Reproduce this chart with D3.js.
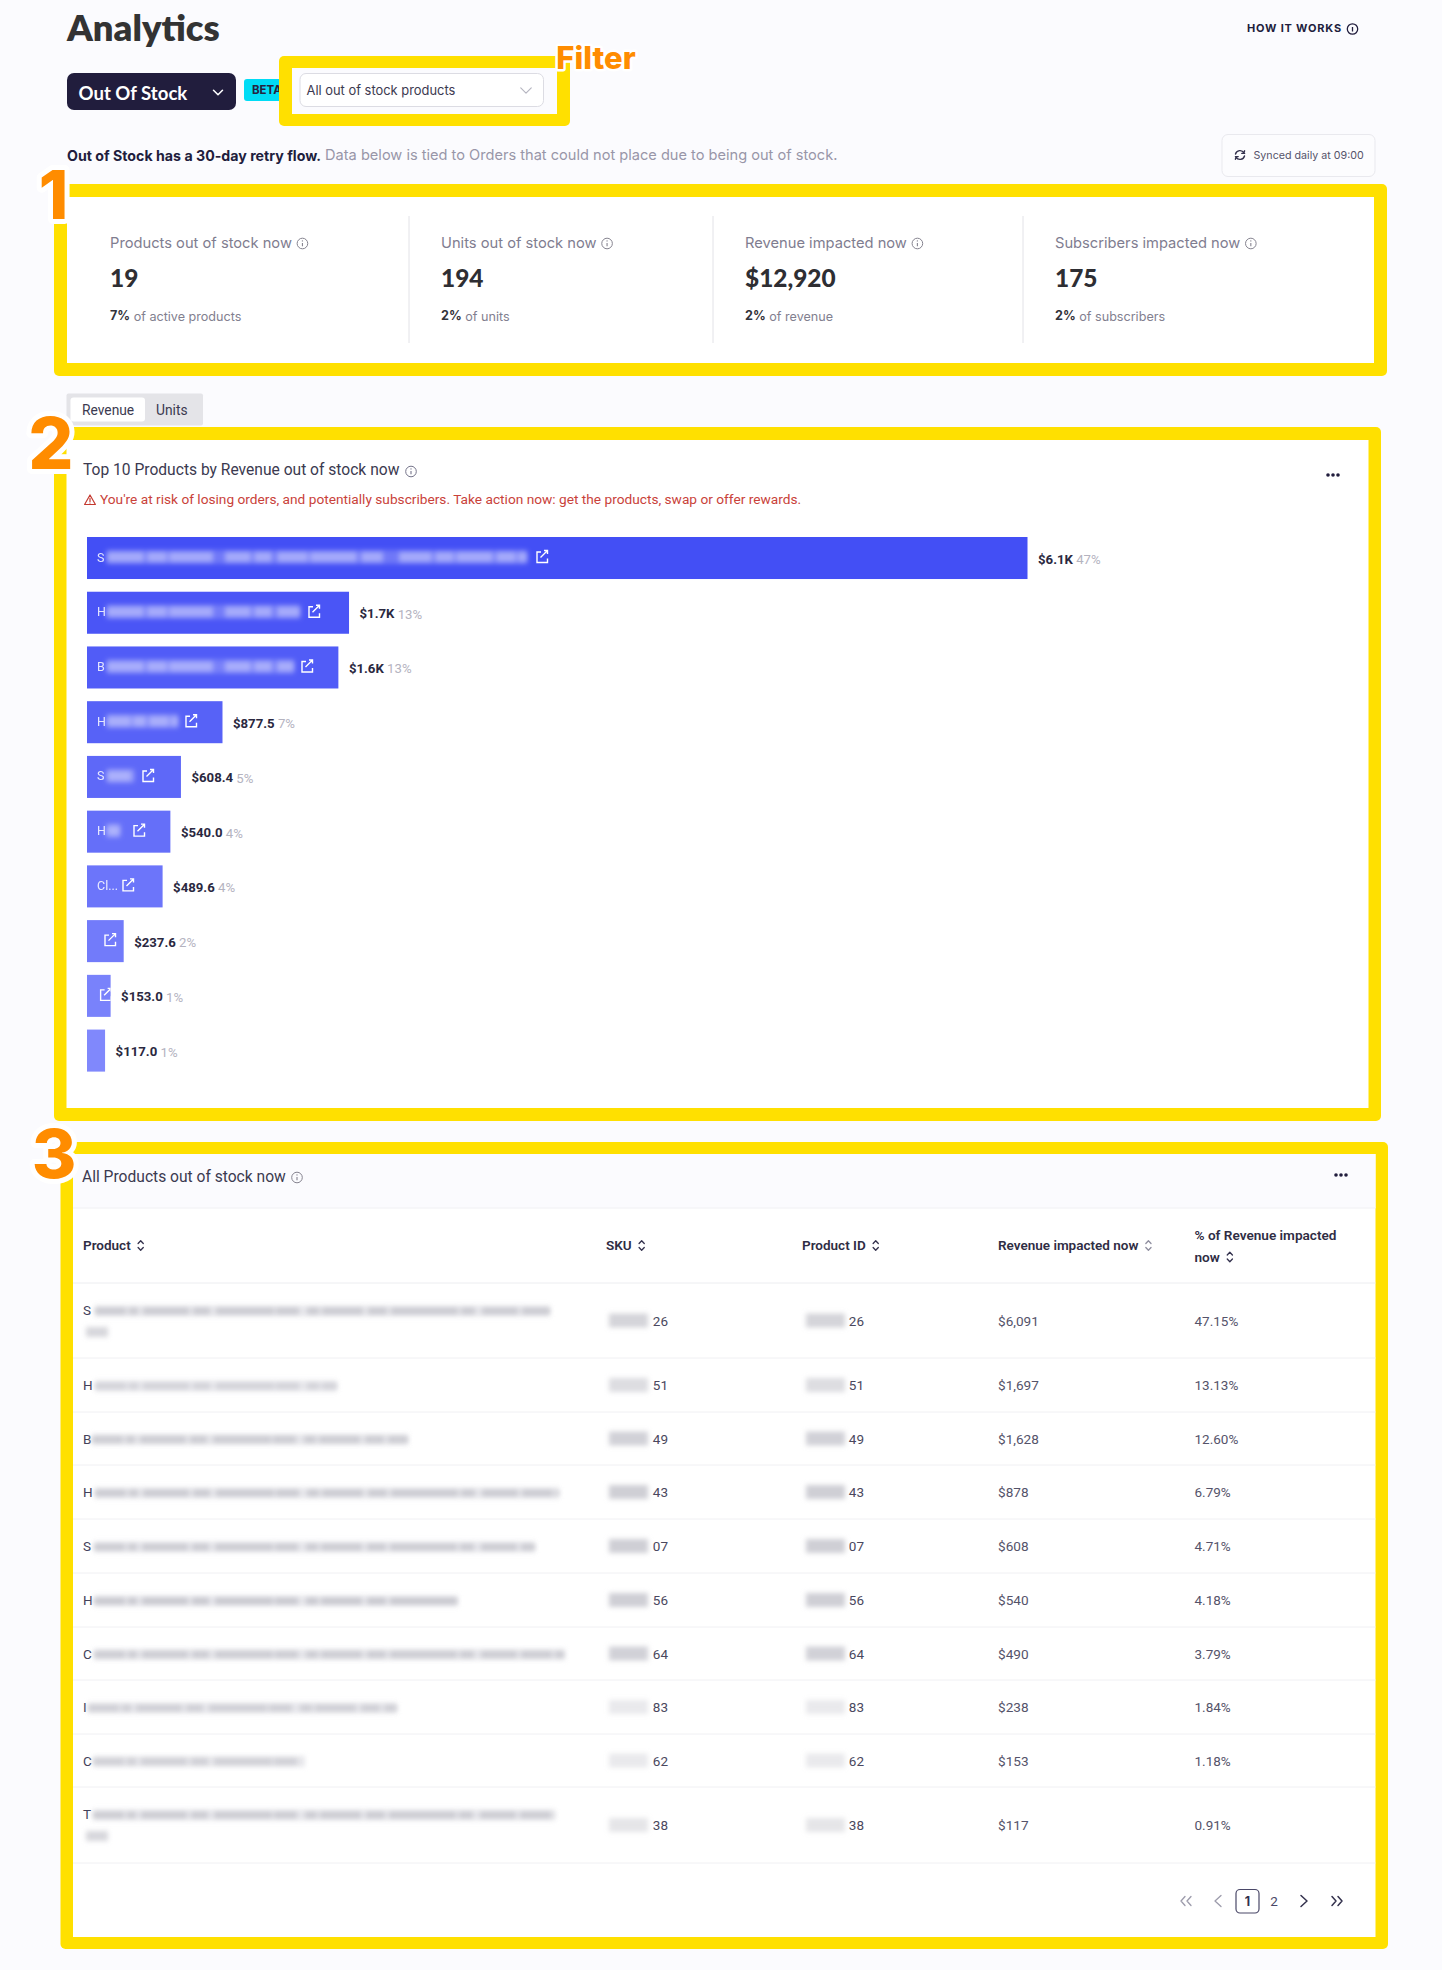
<!DOCTYPE html>
<html><head><meta charset="utf-8">
<script src="https://cdn.jsdelivr.net/npm/d3@7"></script>
<style>
html,body{margin:0;padding:0;background:#fbfbfe;}
svg{display:block;}
text{font-family:Roboto,sans-serif;dominant-baseline:central;}
</style></head><body><div id="chart"></div>
<script>
// ---------- data ----------
const kpiLabels = ["Products out of stock now","Units out of stock now","Revenue impacted now","Subscribers impacted now"];
const kpiValues = ["19","194","$12,920","175"];
const kpiShares = ["7%","2%","2%","2%"];
const kpiSubs = ["of active products","of units","of revenue","of subscribers"];
const barInitials = ["S","H","B","H","S","H","Cl...","","",""];
const barValues = [6091,1697,1628,877.5,608.4,540,489.6,237.6,153,117];
const barValueLabels = ["$6.1K","$1.7K","$1.6K","$877.5","$608.4","$540.0","$489.6","$237.6","$153.0","$117.0"];
const barShareLabels = ["47%","13%","13%","7%","5%","4%","4%","2%","1%","1%"];
const rowInitials = ["S","H","B","H","S","H","C","I","C","T"];
const skuTails = ["26","51","49","43","07","56","64","83","62","38"];
const idTails = ["26","51","49","43","07","56","64","83","62","38"];
const revenueImpacted = [6091,1697,1628,878,608,540,490,238,153,117];
const revenueShares = ["47.15%","13.13%","12.60%","6.79%","4.71%","4.18%","3.79%","1.84%","1.18%","0.91%"];
const headers = ["Product","SKU","Product ID","Revenue impacted now"];

// ---------- layout / style ----------
const W=1442,H=1970, YEL="#ffe000", ORG="#ff8c00", INK="#211d3d";
const svg=d3.select("#chart").append("svg").attr("width",W).attr("height",H).attr("viewBox",`0 0 ${W} ${H}`);
const defs=svg.append("defs");
defs.append("filter").attr("id","blur2").attr("filterUnits","userSpaceOnUse")
  .attr("x",0).attr("y",0).attr("width",W).attr("height",H)
  .append("feGaussianBlur").attr("stdDeviation",2.6);
svg.append("rect").attr("width",W).attr("height",H).attr("fill","#fbfbfe");

function T(x,y,s,o={}){
  const t=svg.append("text").attr("x",x).attr("y",y).text(s)
    .attr("font-size",o.size||13).attr("fill",o.fill||"#55536a")
    .attr("font-weight",o.weight||400).style("font-family",o.font||"Roboto,sans-serif");
  if(o.anchor)t.attr("text-anchor",o.anchor);
  if(o.spacing)t.attr("letter-spacing",o.spacing);
  return t;
}
function box(x0,y0,x1,y1,fill,o={}){
  return svg.append("rect").attr("x",x0).attr("y",y0).attr("width",x1-x0).attr("height",y1-y0)
    .attr("fill",fill).attr("rx",o.r||0).attr("stroke",o.stroke||"none").attr("stroke-width",o.sw||1);
}
function frame(x0,y0,x1,y1,tx,ty){
  box(x0,y0,x1,y1,YEL,{r:5});
  box(x0+tx,y0+ty,x1-tx,y1-ty,"#fff");
}
function line(x0,y0,x1,y1,c,w){
  svg.append("line").attr("x1",x0).attr("y1",y0).attr("x2",x1).attr("y2",y1).attr("stroke",c).attr("stroke-width",w||1);
}
function ico(x,y,d,c,w,s){
  svg.append("path").attr("transform",`translate(${x},${y}) scale(${s||1})`).attr("d",d)
    .attr("fill","none").attr("stroke",c).attr("stroke-width",w||1.3).attr("stroke-linecap","round").attr("stroke-linejoin","round");
}
function info(x,y,c){
  svg.append("circle").attr("cx",x).attr("cy",y).attr("r",5.3).attr("fill","none").attr("stroke",c||"#75748a").attr("stroke-width",1);
  line(x,y-.6,x,y+2.8,c||"#75748a",1.1);
  svg.append("circle").attr("cx",x).attr("cy",y-2.6).attr("r",.7).attr("fill",c||"#75748a");
}
function dots(x,y){[-5,0,5].forEach(d=>svg.append("circle").attr("cx",x+d).attr("cy",y).attr("r",1.8).attr("fill",INK));}
function chev(x,y,c,w,s){ico(x,y,"M-5,-2.5 L0,2.5 L5,-2.5",c,w,s);}
function sortIco(x,y,c){ico(x,y,"M-2.6,-2 L0,-4.8 L2.6,-2 M-2.6,2 L0,4.8 L2.6,2",c||"#33314d",1.3);}
function blurred(x0,x1,y,c,h,pattern,op){
  svg.append("line").attr("x1",x0).attr("y1",y).attr("x2",x1).attr("y2",y)
    .attr("stroke",c).attr("stroke-width",h).attr("stroke-opacity",op==null?1:op)
    .attr("stroke-dasharray",pattern).attr("filter","url(#blur2)");
}
const halo=(t,w)=>t.attr("stroke","#fff").attr("stroke-width",w||10).attr("stroke-linejoin","round").style("paint-order","stroke");

// ---------- page header ----------
T(67,26.5,"Analytics",{size:36.4,weight:800,font:"Lato",fill:"#333"});
T(1247,28,"HOW IT WORKS",{size:11,weight:700,font:"Inter",fill:INK,spacing:.8});
svg.append("circle").attr("cx",1352.5).attr("cy",29).attr("r",5.2).attr("fill","none").attr("stroke",INK).attr("stroke-width",1.3);
line(1352.5,27,1352.5,31.5,INK,1.3);
box(67,73,236,110,INK,{r:7});
T(78.5,93,"Out Of Stock",{size:18.6,weight:700,font:"Lato",fill:"#fff"});
chev(218,92.5,"#fff",1.7,.9);
box(244,79,290,101,"#00dcf5",{r:3});
T(252,90,"BETA",{size:11.5,weight:700,font:"Inter",fill:"#26233f"});
// filter frame
box(279,56,570,126,YEL,{r:5});
box(292,68,557,114,"#fbfbfe");
box(300,73.5,543.5,106.5,"#fff",{r:6,stroke:"#dcdce3",sw:1});
T(306.5,90,"All out of stock products",{size:12.9,font:"Inter",fill:"#3c3a50"});
chev(526,90.5,"#b5b5c0",1.1,1.05);
halo(T(596,57,"Filter",{size:31,weight:800,font:"Inter",fill:ORG,anchor:"middle"}),5);

// sentence
const st=T(67,155,"Out of Stock has a 30-day retry flow.",{size:14.2,weight:700,font:"Inter",fill:INK});
st.append("tspan").text(" Data below is tied to Orders that could not place due to being out of stock.")
  .attr("font-weight",400).attr("fill","#9896a8").attr("font-size",14.6);
box(1222,134.5,1375,176.5,"#fcfcfe",{r:6,stroke:"#e9e9ee",sw:1});
ico(1240,155,"M-4.5,-1 A4.7,4.7 0 0 1 4,-2.2 L4.6,-4.2 M4.6,-1.6 L1.8,-1.6 M4.5,1 A4.7,4.7 0 0 1 -4,2.2 L-4.6,4.2 M-4.6,1.6 L-1.8,1.6","#33314d",1.4);
T(1253.5,155,"Synced daily at 09:00",{size:10.7,font:"Inter",fill:"#55536a"});

// ---------- section 1 ----------
frame(54,184,1387,376,13,13);
const kpiX=[110,441,745,1055], divX=[409,713,1023];
divX.forEach(x=>line(x,216,x,343,"#e2e2e7",1));
kpiLabels.forEach((d,i)=>{
  const t=T(kpiX[i],242.5,d,{size:14.7,font:"Inter",fill:"#7f7d90"});
  info(kpiX[i]+t.node().getComputedTextLength()+10.5,243.5,"#85838f");
  T(kpiX[i],277.5,kpiValues[i],{size:24.4,weight:900,font:"Lato",fill:"#2e2e33"});
  const s=T(kpiX[i],315.7,kpiShares[i],{size:12.6,weight:700,font:"Inter",fill:"#33333a"});
  s.append("tspan").text(" "+kpiSubs[i]).attr("font-weight",400).attr("fill","#82808f");
});
halo(T(53.5,194.5,"1",{size:67,weight:800,font:"Inter",fill:ORG,anchor:"middle"}),10);

// ---------- section 2 ----------
box(66.5,393.5,203,425.5,"#e4e4e8",{r:2});
box(70.5,397.5,145,421.5,"#fff",{r:3});
T(82,409.5,"Revenue",{size:13.8,fill:"#3b3a50"});
T(156,409.5,"Units",{size:13.8,fill:"#3b3a50"});
frame(54,427,1381,1121,12.5,13);
halo(T(51,443,"2",{size:71,weight:800,font:"Inter",fill:ORG,anchor:"middle"}),10);
T(83,470,"Top 10 Products by Revenue out of stock now",{size:15.6,fill:"#3b3a50"});
info(411,471.5,"#75748a");
dots(1333,475);
ico(90,500,"M0,-5 L5.4,4.5 L-5.4,4.5 Z M0,-1.6 L0,1.6 M0,3 L0,3.1","#c4392f",1.2);
T(100,499,"You're at risk of losing orders, and potentially subscribers. Take action now: get the products, swap or offer rewards.",{size:13.7,fill:"#c9423a"});

const x=d3.scaleLinear().domain([0,d3.max(barValues)]).range([87,1027.5]);
const y=d3.scaleBand().domain(d3.range(barValues.length)).range([537,1071.6]).paddingInner(12.7/54.7).paddingOuter(0).align(0);
const barColor=d3.scaleLinear().domain([0,9]).range(["#434ff5","#8088fc"]).interpolate(d3.interpolateRgb);
const barBlurEnd=[529,302,296,180,136,122,null,null,null,null];
const barIcon=[542,314,307,191,148,139,128,110,107,null];
const g=svg.append("g");
g.selectAll("rect").data(barValues).join("rect")
  .attr("x",x(0)).attr("y",(d,i)=>y(i)).attr("height",y.bandwidth()).attr("width",d=>x(d)-x(0)).attr("fill",(d,i)=>barColor(i));
barValues.forEach((d,i)=>{
  const cy=y(i)+y.bandwidth()/2;
  if(barInitials[i])T(97,cy-1,barInitials[i],{size:12.5,fill:"#fff"}).attr("opacity",.85);
  if(barBlurEnd[i]){
    const pat=i<3?"37 3 20 2 44 12 26 3 18 5 31 2 47 4 22 16 33 3 19 2":"24 2 13 3 20 2";
    blurred(107,barBlurEnd[i]-2,cy-1,"#bfc4fc",14,"none",.35);
    blurred(107,barBlurEnd[i]-2,cy-1,"#d0d3fd",10,pat,.55);
  }
  if(barIcon[i]){
    const ix=Math.min(barIcon[i],x(d)-5);
    const cp=`bc${i}`;
    defs.append("clipPath").attr("id",cp).append("rect").attr("x",x(0)).attr("y",y(i)).attr("width",x(d)-x(0)).attr("height",y.bandwidth());
    svg.append("path").attr("clip-path",`url(#${cp})`)
      .attr("d",`M${ix-1},${cy-6} h-4 v10.5 h10.5 v-4 M${ix-1.5},${cy-.5} L${ix+5.5},${cy-7.5} M${ix+2},${cy-7.5} h3.5 v3.5`)
      .attr("fill","none").attr("stroke","#fff").attr("stroke-width",1.4);
  }
  const l=T(x(d)+10.5,cy+1,barValueLabels[i],{size:13.2,weight:700,fill:"#2a2840"});
  l.append("tspan").text(" "+barShareLabels[i]).attr("font-weight",400).attr("fill","#b4b3bf").attr("font-size",13.2);
});

// ---------- section 3 ----------
box(60.5,1142,1388,1949,YEL,{r:5});
box(73,1154,1375.5,1937,"#fff");
box(73,1154,1375.5,1208,"#fbfbfe");
line(73,1208,1375.5,1208,"#f0f0f4",1);
halo(T(54,1153,"3",{size:68,weight:800,font:"Inter",fill:ORG,anchor:"middle"}),10);
T(82,1177,"All Products out of stock now",{size:15.6,fill:"#3b3a50"});
info(297,1177.5,"#85838f");
dots(1341,1175);

const colX=[83,606,802,998,1194.5];
headers.forEach((h,i)=>{
  const t=T(colX[i],1245,h,{size:13.5,weight:600,fill:"#2f2d44"});
  sortIco(colX[i]+t.node().getComputedTextLength()+10,1245.5,i==3?"#8f8e9f":"#33314d");
});
T(colX[4],1235,"% of Revenue impacted",{size:13.6,weight:600,fill:"#2f2d44"});
const n2=T(colX[4],1257,"now",{size:13.6,weight:600,fill:"#2f2d44"});
sortIco(colX[4]+n2.node().getComputedTextLength()+10,1257,"#33314d");

const rowH=[75,54,53,54,54,54,53,54,53,76];
let rowTop=1283;
line(73,rowTop,1375.5,rowTop,"#ecedf0",1);
const blurEnds=[550,337,408,559,535,458,565,397,305,555];
const blurStart=[95,95,92,95,94,94,94,88,93,93];
const rowAlpha=[.85,.6,.8,.85,.8,.9,.8,.7,.7,.8];
const idAlpha=[.9,.7,.95,1,1,1,.95,.45,.45,.55];
const rowPat="31 3 9 5 46 4 17 6 58 2 23 8 12 3 41 5 19 4 67 3 14 7 36 4";
revenueImpacted.forEach((d,i)=>{
  const rh=rowH[i], two=rh>70, cy=rowTop+rh/2, ly=two?rowTop+27:cy, ly2=rowTop+49;
  T(83,ly,rowInitials[i],{size:13.5,fill:"#42415a"});
  blurred(blurStart[i],blurEnds[i],ly+1,"#d4d4da",11,"none",.55);
  blurred(blurStart[i],blurEnds[i],ly+1,"#b9b9c1",6,rowPat,rowAlpha[i]*.8);
  if(two)blurred(86,108,ly2,"#bcbcc4",10,"none",.6);
  blurred(609,648,cy,"#c3c3ca",14,"none",idAlpha[i]*.8);
  blurred(806,845,cy,"#c3c3ca",14,"none",idAlpha[i]*.8);
  T(668,cy,skuTails[i],{size:13.5,fill:"#4a485e",anchor:"end"});
  T(864,cy,idTails[i],{size:13.5,fill:"#4a485e",anchor:"end"});
  T(colX[3],cy,d3.format("$,")(d),{size:13.6,fill:"#55536a"});
  T(colX[4],cy,revenueShares[i],{size:13.5,fill:"#55536a"});
  rowTop+=rh;
  line(73,rowTop,1375.5,rowTop,"#f0f0f3",1);
});

// pagination
ico(1186,1901,"M-1,-4.5 L-5,0 L-1,4.5 M5,-4.5 L1,0 L5,4.5","#9c9bab",1.3);
ico(1218,1901,"M3,-5.5 L-3,0 L3,5.5","#9c9bab",1.3);
box(1236,1889.5,1259,1913,"#fff",{r:4,stroke:"#4a4868",sw:1.2});
T(1247.5,1901,"1",{size:12.5,weight:700,font:"Inter",fill:"#33314d",anchor:"middle"});
T(1274,1901,"2",{size:13.5,font:"Roboto",fill:"#4a4868",anchor:"middle"});
ico(1304,1901,"M-3,-5.5 L3,0 L-3,5.5","#33314d",1.5);
ico(1337,1901,"M-5,-4.5 L-1,0 L-5,4.5 M1,-4.5 L5,0 L1,4.5","#33314d",1.5);
</script></body></html>
